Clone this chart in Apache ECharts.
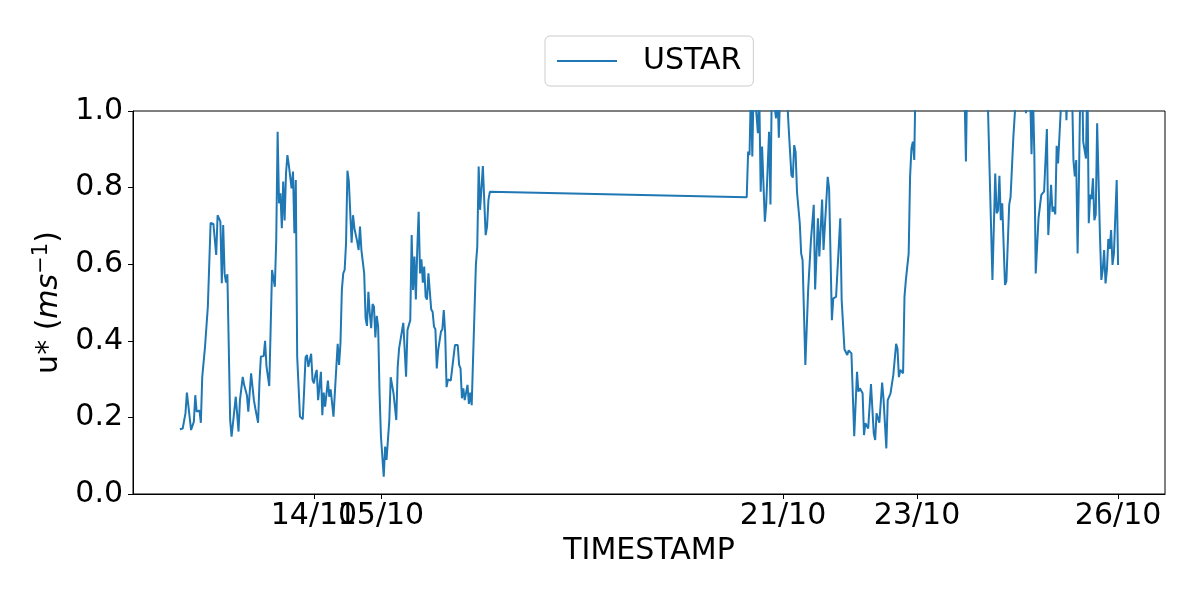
<!DOCTYPE html>
<html>
<head>
<meta charset="utf-8">
<script src="https://cdn.jsdelivr.net/npm/echarts@6/dist/echarts.min.js"></script>
<style>
  html, body { margin: 0; padding: 0; background: #fff; }
  #chart { width: 1200px; height: 600px; }
</style>
</head>
<body>
<div id="chart"></div>
<script>
// Series start: 12/10 00:00 (UTC); times are hours after the start
const startDate = [2023, 9, 12];
const hoursFromStart = [
  0, 1.0, 2.0, 2.5, 3.0, 4.0, 5.0, 5.5, 6.0, 7.0, 7.5, 8.0, 9.0, 10.0, 11.0, 12.0, 13.0, 13.5, 14.5, 15.0,
  15.5, 16.0, 16.5, 17.0, 17.5, 18.0, 18.5, 19.5, 20.0, 21.0, 21.5, 22.5, 23.0, 24.0, 24.5, 25.5, 26.0, 26.5, 27.0, 28.0,
  28.5, 29.0, 30.0, 30.5, 31.0, 31.5, 32.0, 33.0, 33.5, 34.0, 34.5, 35.0, 35.5, 36.0, 36.5, 37.0, 37.5, 38.0, 38.5, 39.0,
  40.0, 40.5, 41.0, 41.5, 42.0, 43.0, 44.0, 44.5, 45.0, 45.5, 46.0, 47.0, 47.5, 48.0, 48.5, 49.0, 49.5, 50.5, 51.0, 51.5,
  52.0, 53.0, 53.5, 54.0, 55.0, 56.5, 57.0, 57.5, 58.0, 58.5, 59.0, 59.5, 60.0, 60.5, 61.5, 62.0, 62.5, 63.0, 63.5, 64.0,
  64.5, 65.0, 66.0, 66.5, 67.0, 67.5, 68.0, 68.5, 69.0, 69.5, 70.0, 70.5, 71.0, 71.5, 72.0, 73.0, 73.5, 74.0, 75.0, 75.5,
  76.5, 77.0, 77.5, 78.0, 78.5, 79.0, 80.0, 81.0, 81.5, 82.5, 83.0, 83.5, 84.0, 84.5, 85.0, 85.5, 86.0, 86.5, 87.0, 87.5,
  88.0, 88.5, 89.0, 90.0, 90.5, 91.0, 91.5, 92.0, 92.5, 93.5, 94.0, 94.5, 95.0, 95.5, 96.0, 97.0, 97.5, 98.5, 99.5, 100.0,
  100.5, 101.0, 101.5, 102.0, 102.5, 103.0, 103.5, 104.0, 104.5, 105.0, 106.0, 106.5, 107.0, 107.5, 108.5, 109.5, 110.0, 110.5, 111.0,
  203.0, 203.5, 204.0, 204.5, 205.0, 205.5, 206.0, 206.5, 207.0, 207.5, 208.0, 208.5, 209.5, 210.0, 211.0, 211.5, 212.0, 212.5, 213.0, 213.5,
  214.0, 214.5, 215.0, 215.5, 216.0, 216.5, 217.0, 217.5, 218.0, 218.5, 219.0, 219.5, 220.0, 220.5, 221.0, 222.0, 222.5, 223.0, 224.0, 225.0,
  225.5, 226.0, 227.0, 227.5, 228.5, 229.0, 230.0, 230.5, 231.0, 232.0, 232.5, 233.5, 234.0, 234.5, 235.0, 236.5, 237.0, 238.0, 238.5, 239.0,
  239.5, 240.5, 241.5, 242.5, 243.0, 243.5, 244.5, 245.0, 245.5, 246.5, 247.5, 248.5, 249.0, 249.5, 250.5, 251.5, 252.0, 252.5, 253.0, 253.5,
  254.5, 255.5, 256.5, 257.0, 257.5, 258.0, 258.5, 259.0, 259.5, 260.0, 261.0, 261.5, 262.0, 262.5, 263.0, 263.5,
  264, 265, 266, 267, 268, 269, 270, 271, 272, 273, 274, 275, 276, 277, 278, 279, 280, 281.0, 281.5, 282.0,
  283, 284, 285, 286, 287, 288, 289.0, 291.0, 292.0, 292.5, 293.0, 293.5, 294.0, 294.5, 295.0, 295.5, 296.0, 297.0, 297.5, 298.5,
  299.0, 299.5, 300.0, 300.5, 301.0, 301.5, 302.0, 302.5, 303.0, 303.5, 304.0, 304.5, 305.0, 305.5, 306.0, 306.5, 307.5, 308.5, 309.5, 310.5,
  311.0, 312.0, 312.5, 313.0, 313.5, 314.0, 314.5, 315.0, 316.0, 316.5, 317.0, 317.5, 318.0, 318.5, 319.0, 319.5, 320.0, 320.5, 321.0, 321.5,
  322.0, 322.5, 323.0, 323.5, 324.5, 325.0, 325.5, 326.0, 326.5, 327.0, 327.5, 328.0, 328.5, 329.5, 330.0, 330.5, 331.0, 331.5, 332.0, 332.5,
  333.0, 333.5, 334.0, 334.5, 335.5, 336.0
];
const ustar = [
  0.169, 0.171, 0.211, 0.265, 0.265, 0.167, 0.189, 0.258, 0.215, 0.218, 0.186, 0.306, 0.385, 0.489, 0.708, 0.705, 0.624, 0.728, 0.711, 0.550,
  0.702, 0.576, 0.552, 0.574, 0.573, 0.193, 0.150, 0.219, 0.254, 0.163, 0.245, 0.306, 0.285, 0.258, 0.215, 0.315, 0.319, 0.245, 0.224, 0.186,
  0.293, 0.359, 0.360, 0.400, 0.334, 0.332, 0.282, 0.585, 0.584, 0.541, 0.663, 0.946, 0.759, 0.785, 0.694, 0.816, 0.714, 0.837, 0.885, 0.859,
  0.798, 0.842, 0.681, 0.820, 0.359, 0.202, 0.195, 0.272, 0.357, 0.363, 0.332, 0.366, 0.298, 0.289, 0.311, 0.324, 0.245, 0.319, 0.206, 0.265,
  0.228, 0.296, 0.254, 0.273, 0.202, 0.392, 0.337, 0.393, 0.533, 0.576, 0.585, 0.655, 0.844, 0.816, 0.656, 0.728, 0.694, 0.694, 0.659, 0.637,
  0.698, 0.637, 0.576, 0.459, 0.439, 0.528, 0.472, 0.433, 0.496, 0.489, 0.409, 0.465, 0.437, 0.263, 0.150, 0.045, 0.124, 0.089, 0.193, 0.305,
  0.263, 0.258, 0.193, 0.332, 0.380, 0.376, 0.447, 0.306, 0.428, 0.454, 0.676, 0.533, 0.620, 0.508, 0.637, 0.737, 0.576, 0.613, 0.552, 0.594,
  0.515, 0.508, 0.576, 0.482, 0.476, 0.437, 0.430, 0.328, 0.376, 0.424, 0.430, 0.480, 0.420, 0.279, 0.299, 0.296, 0.291, 0.389, 0.389, 0.337,
  0.328, 0.250, 0.276, 0.245, 0.250, 0.285, 0.235, 0.265, 0.232, 0.230, 0.598, 0.646, 0.855, 0.742, 0.856, 0.676, 0.698, 0.768, 0.789,
  0.775, 0.894, 0.885, 1.06, 0.881, 1.08, 1.04, 0.99, 0.942, 1.04, 0.789, 0.907, 0.711, 0.759, 0.946, 0.756, 1.08, 1.12, 1.01, 0.981,
  1.05, 0.930, 1.06, 1.12, 1.15, 1.10, 1.08, 1.03, 0.959, 0.962, 0.833, 0.826, 0.911, 0.893, 0.789, 0.707, 0.628, 0.611, 0.337, 0.533,
  0.537, 0.663, 0.755, 0.534, 0.720, 0.620, 0.769, 0.637, 0.639, 0.828, 0.798, 0.454, 0.511, 0.507, 0.515, 0.720, 0.507, 0.378, 0.381, 0.363,
  0.375, 0.367, 0.151, 0.319, 0.267, 0.276, 0.263, 0.154, 0.185, 0.171, 0.287, 0.158, 0.141, 0.211, 0.186, 0.291, 0.247, 0.244, 0.119, 0.245,
  0.263, 0.311, 0.392, 0.379, 0.305, 0.324, 0.319, 0.315, 0.515, 0.559, 0.628, 0.828, 0.903, 0.920, 0.872, 1.10,
  1.22, 1.30, 1.18, 1.35, 1.41, 1.24, 1.30, 1.16, 1.28, 1.33, 1.20, 1.12, 1.26, 1.38, 1.29, 1.17, 1.22, 1.05, 0.868, 1.12,
  1.30, 1.25, 1.40, 1.21, 1.32, 1.18, 1.12, 0.559, 0.837, 0.733, 0.740, 0.831, 0.715, 0.759, 0.755, 0.546, 0.556, 0.755, 0.776, 0.933,
  0.935, 1.05, 1.18, 1.25, 1.12, 1.20, 1.08, 1.10, 0.994, 1.10, 1.15, 1.05, 0.887, 1.05, 0.89, 0.576, 0.720, 0.781, 0.790, 0.953,
  0.676, 0.807, 0.737, 0.750, 0.730, 0.909, 0.863, 0.866, 1.08, 1.20, 1.15, 0.976, 1.10, 1.22, 1.15, 1.06, 0.872, 0.829, 0.872, 0.628,
  0.829, 1.08, 1.15, 0.920, 0.876, 1.10, 0.707, 0.782, 0.770, 0.824, 0.715, 0.730, 0.968, 0.676, 0.559, 0.585, 0.637, 0.550, 0.585, 0.666,
  0.640, 0.689, 0.598, 0.627, 0.820, 0.598
];
// x tick dates (day of October)
const tickDays = [14, 15, 21, 23, 26];
const yTicks = [0.0, 0.2, 0.4, 0.6, 0.8, 1.0];

const HOUR = 3600 * 1000;
const t0 = Date.UTC(startDate[0], startDate[1], startDate[2]);
const seriesData = hoursFromStart.map((h, i) => [t0 + h * HOUR, ustar[i]]);
const tFirst = t0 + hoursFromStart[0] * HOUR;
const tLast = t0 + hoursFromStart[hoursFromStart.length - 1] * HOUR;
const pad = (tLast - tFirst) * 0.05;
const tickValues = tickDays.map(d => Date.UTC(startDate[0], startDate[1], d));
// labels are split across two coincident axes so that overlapping ones are both drawn (as in the original)
const labelsA = tickValues.filter((v, i) => i % 2 === 1);
const labelsB = tickValues.filter((v, i) => i % 2 === 0);

const font = 'DejaVu Sans';
const FS = 30;
const fmtDate = v => { const d = new Date(v); return String(d.getUTCDate()).padStart(2, '0') + '/' + String(d.getUTCMonth() + 1).padStart(2, '0'); };

const chart = echarts.init(document.getElementById('chart'), null, { renderer: 'canvas' });
chart.setOption({
  animation: false,
  backgroundColor: '#ffffff',
  grid: { left: 133, right: 35, top: 111, bottom: 106, show: true, borderColor: '#000', borderWidth: 1, containLabel: false },
  legend: {
    left: 545, top: 36,
    padding: [10, 12, 10, 12],
    backgroundColor: '#ffffff',
    borderColor: '#cccccc', borderWidth: 1, borderRadius: 5,
    icon: 'rect',
    itemWidth: 60, itemHeight: 2,
    textStyle: { fontSize: FS, fontFamily: font, color: '#000', padding: [0, 0, 0, 21] },
    data: ['USTAR']
  },
  xAxis: [{
    type: 'value',
    min: tFirst - pad, max: tLast + pad,
    name: 'TIMESTAMP', nameLocation: 'middle', nameGap: 41,
    nameTextStyle: { fontSize: FS, fontFamily: font, color: '#000' },
    axisLine: { show: true, lineStyle: { color: '#000', width: 1 } },
    axisTick: { show: true, length: 5, lineStyle: { color: '#000', width: 1 }, customValues: tickValues },
    axisLabel: { fontSize: FS, fontFamily: font, color: '#000', margin: 7, customValues: labelsA, formatter: fmtDate },
    splitLine: { show: false }
  }, {
    type: 'value', position: 'bottom', offset: 0,
    min: tFirst - pad, max: tLast + pad,
    axisLine: { show: false },
    axisTick: { show: false },
    axisLabel: { fontSize: FS, fontFamily: font, color: '#000', margin: 7, customValues: labelsB, formatter: fmtDate },
    splitLine: { show: false }
  }],
  yAxis: {
    type: 'value', min: 0, max: 1, interval: 0.2,
    name: '{n|u* (}{i|ms}{s|−1}{n|)}', nameLocation: 'middle', nameGap: 63, nameRotate: 90,
    nameTextStyle: {
      fontSize: FS, fontFamily: font, color: '#000',
      rich: {
        n: { fontSize: FS, fontFamily: font, color: '#000', lineHeight: 36 },
        i: { fontSize: FS, fontFamily: font, fontStyle: 'italic', color: '#000', lineHeight: 36 },
        s: { fontSize: 21, fontFamily: font, color: '#000', verticalAlign: 'top', lineHeight: 21 }
      }
    },
    axisLine: { show: true, lineStyle: { color: '#000', width: 1 } },
    axisTick: { show: true, length: 5, lineStyle: { color: '#000', width: 1 }, customValues: yTicks },
    axisLabel: { fontSize: FS, fontFamily: font, color: '#000', margin: 10, customValues: yTicks, formatter: v => v.toFixed(1) },
    splitLine: { show: false }
  },
  series: [{
    name: 'USTAR', type: 'line', data: seriesData, xAxisIndex: 0,
    symbol: 'none', showSymbol: false, clip: true,
    lineStyle: { color: '#1f77b4', width: 2 },
    itemStyle: { color: '#1f77b4' }
  }]
});
</script>
</body>
</html>
